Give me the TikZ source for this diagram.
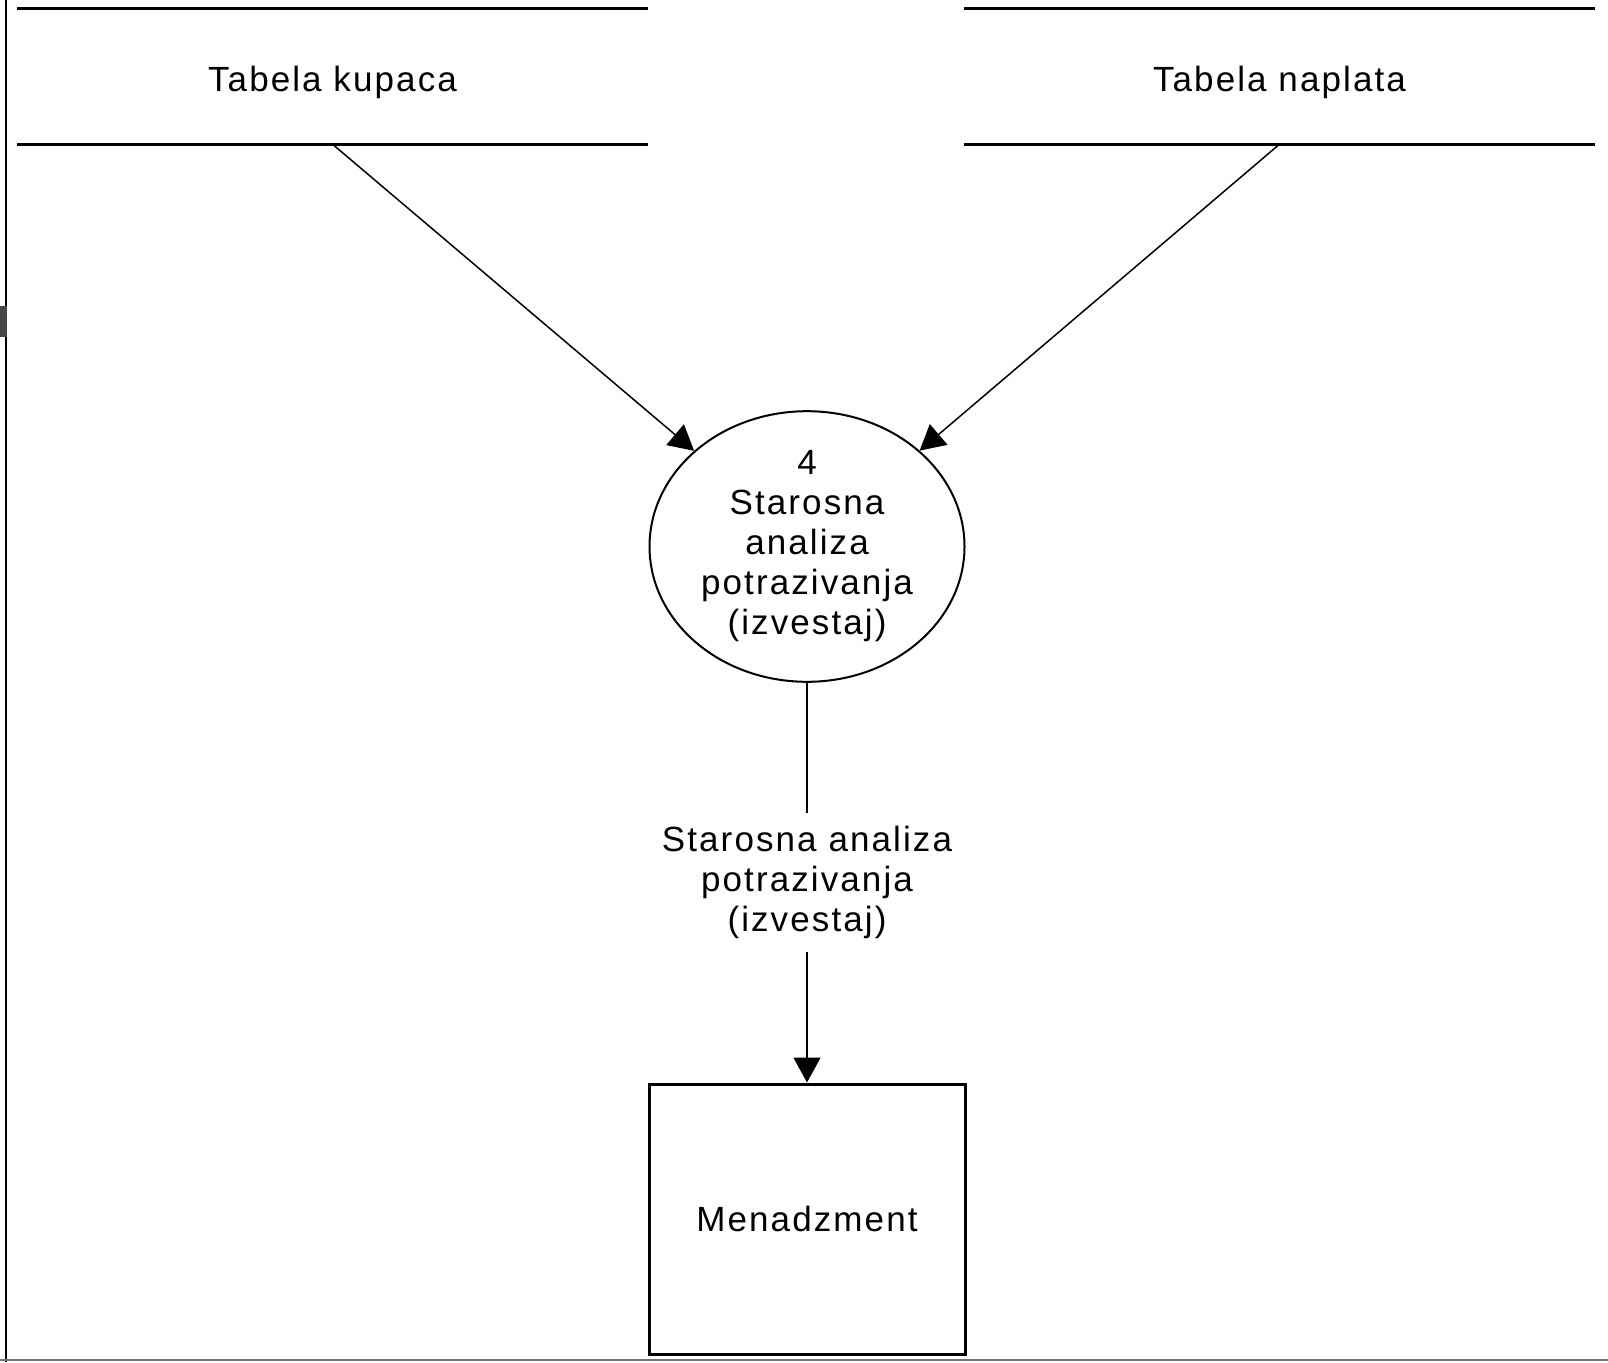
\documentclass[tikz,border=0pt]{standalone}
\usepackage{fontspec}
\newfontfamily\dfdfont[LetterSpace=6]{Liberation Sans}
\usetikzlibrary{arrows.meta,shapes.geometric}
\begin{document}
\begin{tikzpicture}[x=1pt,y=-1pt,
  every node/.style={font=\dfdfont\fontsize{35}{40}\selectfont, align=center},
  store/.style={minimum width=631pt, minimum height=135pt, inner sep=0pt},
  storeline/.style={line width=3pt},
  process/.style={ellipse, draw, line width=2pt, minimum width=315pt, minimum height=267pt, inner sep=0pt},
  entity/.style={rectangle, draw, line width=3pt, minimum width=316pt, minimum height=270pt, inner sep=0pt},
  flow/.style={line width=1.5pt, -{Triangle[length=25pt,width=27pt]}},
  flowlabel/.style={fill=white, inner xsep=4pt, inner ysep=13pt}
]
\useasboundingbox (0,0) rectangle (1608,1362);
\fill[white] (0,0) rectangle (1608,1362);

% frame remnants along the left and bottom edges
\draw[line width=2.5pt] (6,0) -- (6,1362);
\draw[line width=2pt, black!55] (0,1360) -- (1608,1360);
\fill[black!72] (0,306) rectangle (7,337);

% data stores: two horizontal rules with the name between them
\node[store] (kupaca) at (332.5,76.5) {};
\node[store] (naplata) at (1279.5,76.5) {};
\node (kupacaName) at ([yshift=-6pt]kupaca.center) {Tabela kupaca};
\node (naplataName) at ([yshift=-6pt]naplata.center) {Tabela naplata};
\foreach \s in {kupaca,naplata}{
  \draw[storeline] (\s.north west) -- (\s.north east);
  \draw[storeline] (\s.south west) -- (\s.south east);
}

% process
\node[process] (proc) at (807,546.5) {4\\Starosna\\analiza\\potrazivanja\\(izvestaj)};

% external entity
\node[entity] (mgmt) at (807,1219) {Menadzment};

% data flows
\draw[flow] (kupaca.south) -- (proc);
\draw[flow] (naplata.south) -- (proc);
\draw[flow] (proc.south) -- node[flowlabel] {Starosna analiza\\potrazivanja\\(izvestaj)} (mgmt.north);
\end{tikzpicture}
\end{document}
